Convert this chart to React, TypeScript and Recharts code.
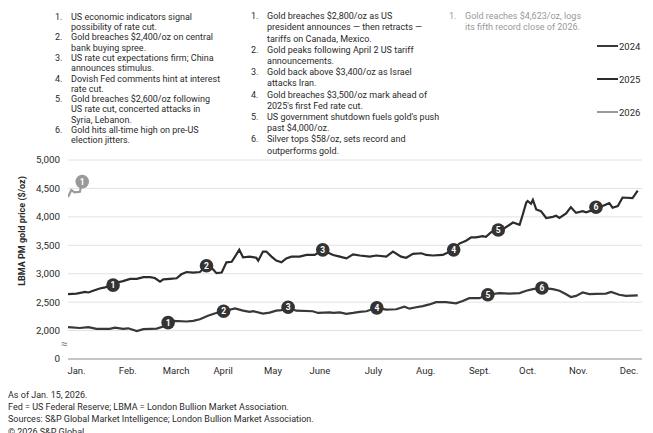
import { LineChart, Line, XAxis, YAxis, CartesianGrid } from "recharts";

// month positions are in fractional months from Jan. 1
const monthLabels = ["Jan.", "Feb.", "March", "April", "May", "June", "July", "Aug.", "Sept.", "Oct.", "Nov.", "Dec."];
const monthTicks = [0.18, 1.26, 2.28, 3.27, 4.32, 5.31, 6.44, 7.54, 8.68, 9.69, 10.76, 11.83];

// 1500 sits at the axis break and is labelled as 0
const priceTicks = [1500, 2000, 2500, 3000, 3500, 4000, 4500, 5000];

const months2024 = [0, 0.25, 0.43, 0.6, 0.88, 0.99, 1.16, 1.27, 1.45, 1.59, 1.87, 2.04, 2.11, 2.22, 2.5, 2.64, 2.78, 2.95, 3.09, 3.28, 3.52, 3.69, 3.83, 3.9, 4.11, 4.25, 4.39, 4.5, 4.64, 4.81, 5.16, 5.27, 5.52, 5.59, 5.73, 5.87, 6.01, 6.15, 6.29, 6.51, 6.71, 6.92, 7.09, 7.2, 7.34, 7.48, 7.62, 7.76, 7.97, 8.18, 8.32, 8.46, 8.67, 8.85, 9.09, 9.31, 9.52, 9.66, 9.8, 9.99, 10.22, 10.36, 10.5, 10.6, 10.71, 10.85, 10.99, 11.13, 11.34, 11.45, 11.62, 11.76, 12.01];
const gold2024 = [2060, 2045, 2060, 2030, 2030, 2050, 2030, 2040, 1990, 2025, 2035, 2080, 2140, 2170, 2160, 2170, 2200, 2260, 2300, 2340, 2390, 2350, 2330, 2340, 2300, 2315, 2350, 2360, 2410, 2350, 2340, 2310, 2320, 2310, 2320, 2295, 2310, 2330, 2340, 2400, 2370, 2375, 2420, 2385, 2410, 2430, 2460, 2500, 2500, 2480, 2520, 2570, 2570, 2630, 2660, 2650, 2660, 2700, 2730, 2750, 2730, 2700, 2640, 2590, 2610, 2670, 2640, 2645, 2650, 2680, 2630, 2610, 2620];
const events2024 = [2.11, 3.28, 4.64, 6.51, 8.85, 9.99];

const months2025 = [0, 0.18, 0.36, 0.43, 0.53, 0.67, 0.78, 0.95, 1.06, 1.16, 1.31, 1.45, 1.59, 1.73, 1.83, 1.94, 2.01, 2.15, 2.29, 2.39, 2.5, 2.64, 2.78, 2.92, 3.03, 3.13, 3.24, 3.34, 3.45, 3.52, 3.61, 3.69, 3.83, 3.97, 4.01, 4.11, 4.18, 4.29, 4.39, 4.5, 4.6, 4.71, 4.88, 5.03, 5.2, 5.37, 5.45, 5.59, 5.73, 5.87, 6.01, 6.15, 6.36, 6.5, 6.71, 6.85, 7.02, 7.13, 7.27, 7.45, 7.55, 7.69, 7.9, 8.13, 8.25, 8.39, 8.5, 8.6, 8.74, 8.81, 8.92, 9.07, 9.2, 9.38, 9.52, 9.59, 9.66, 9.69, 9.76, 9.8, 9.87, 9.97, 10.08, 10.22, 10.29, 10.36, 10.5, 10.6, 10.71, 10.85, 10.92, 11.04, 11.13, 11.27, 11.41, 11.48, 11.59, 11.69, 11.9, 12.01];
const gold2025 = [2640, 2650, 2680, 2670, 2700, 2740, 2760, 2800, 2850, 2870, 2910, 2910, 2940, 2940, 2925, 2860, 2900, 2910, 2920, 2990, 3030, 3020, 3030, 3140, 3100, 3010, 3020, 3200, 3210, 3300, 3420, 3290, 3300, 3280, 3230, 3390, 3390, 3300, 3230, 3200, 3270, 3300, 3300, 3330, 3330, 3420, 3380, 3330, 3300, 3270, 3340, 3320, 3300, 3320, 3300, 3390, 3300, 3280, 3350, 3360, 3330, 3320, 3330, 3420, 3530, 3580, 3640, 3640, 3660, 3650, 3730, 3770, 3800, 3900, 3860, 4050, 4250, 4280, 4230, 4300, 4130, 4100, 3980, 4000, 4020, 3980, 4060, 4170, 4070, 4100, 4080, 4110, 4170, 4190, 4240, 4160, 4190, 4340, 4330, 4460];
const events2025 = [0.95, 2.92, 5.37, 8.13, 9.07, 11.13];

const months2026 = [0, 0.07, 0.14, 0.25, 0.3];
const gold2026 = [4350, 4470, 4430, 4440, 4620];
const events2026 = [0.3];

const notes2024 = [
  ["US economic indicators signal", "possibility of rate cut."],
  ["Gold breaches $2,400/oz on central", "bank buying spree."],
  ["US rate cut expectations firm; China", "announces stimulus."],
  ["Dovish Fed comments hint at interest", "rate cut."],
  ["Gold breaches $2,600/oz following", "US rate cut, concerted attacks in", "Syria, Lebanon."],
  ["Gold hits all-time high on pre-US", "election jitters."],
];
const notes2025 = [
  ["Gold breaches $2,800/oz as US", "president announces \u2014 then retracts \u2014", "tariffs on Canada, Mexico."],
  ["Gold peaks following April 2 US tariff", "announcements."],
  ["Gold back above $3,400/oz as Israel", "attacks Iran."],
  ["Gold breaches $3,500/oz mark ahead of", "2025's first Fed rate cut."],
  ["US government shutdown fuels gold's push", "past $4,000/oz."],
  ["Silver tops $58/oz, sets record and", "outperforms gold."],
];
const notes2026 = [["Gold reaches $4,623/oz, logs", "its fifth record close of 2026."]];

const years = ["2024", "2025", "2026"];
const yearColors = ["#383838", "#2c2c2c", "#9a9a9a"];

const footer = [
  "As of Jan. 15, 2026.",
  "Fed = US Federal Reserve; LBMA = London Bullion Market Association.",
  "Sources: S&P Global Market Intelligence; London Bullion Market Association.",
  "\u00a9 2026 S&P Global.",
];

const FONT = "Roboto, 'Noto Sans', sans-serif";

function toPoints(xs: number[], ys: number[], events: number[]) {
  return xs.map((m, i) => ({ m, price: ys[i], note: events.indexOf(m) + 1 }));
}

const data2024 = toPoints(months2024, gold2024, events2024);
const data2025 = toPoints(months2025, gold2025, events2025);
const data2026 = toPoints(months2026, gold2026, events2026);

const markerDot = (fill: string) => (props: any) => {
  const { cx, cy, payload, index } = props;
  if (!payload || !payload.note) return <g key={`d-${index}`} />;
  return (
    <g key={`d-${index}`}>
      <circle cx={cx} cy={cy} r={6.8} fill={fill} />
      <text x={cx} y={cy} dy="0.36em" textAnchor="middle" fontSize={8.5} fontWeight={700} fill="#fff" fontFamily={FONT}>
        {payload.note}
      </text>
    </g>
  );
};

function NoteColumn({ notes, left, lineHeight, color }: { notes: string[][]; left: number; lineHeight: number; color: string }) {
  return (
    <div style={{ position: "absolute", left, top: 16.7 - lineHeight / 2, fontSize: 9, lineHeight: `${lineHeight}px`, color, whiteSpace: "nowrap" }}>
      {notes.map((lines, i) => (
        <div key={i} style={{ display: "flex" }}>
          <div style={{ width: 16 }}>{i + 1}.</div>
          <div>
            {lines.map((l, j) => (
              <div key={j}>{l}</div>
            ))}
          </div>
        </div>
      ))}
    </div>
  );
}

export default function App() {
  return (
    <div style={{ position: "absolute", left: 0, top: 0, width: 653, height: 433, background: "#fff", fontFamily: FONT, overflow: "hidden" }}>
      <LineChart width={653} height={433} margin={{ top: 160, right: 11, bottom: 44, left: 8 }}>
        <CartesianGrid vertical={false} stroke="#e2e2e2" />
        <XAxis
          dataKey="m"
          type="number"
          domain={[0, 12.1]}
          ticks={monthTicks}
          tickFormatter={(v: number) => monthLabels[monthTicks.indexOf(v)]}
          tick={{ fontSize: 9.5, fill: "#2a2a2a", fontFamily: FONT }}
          tickLine={false}
          axisLine={{ stroke: "#9a9a9a" }}
          interval={0}
          allowDataOverflow
        />
        <YAxis
          type="number"
          width={60}
          domain={[1500, 5000]}
          ticks={priceTicks}
          tickFormatter={(v: number) => (v === 1500 ? "0" : v.toLocaleString("en-US"))}
          tick={{ fontSize: 9.8, fill: "#2a2a2a", fontFamily: FONT }}
          tickLine={false}
          axisLine={false}
          interval={0}
        />
        <Line data={data2024} dataKey="price" type="linear" stroke={yearColors[0]} strokeWidth={2.2} dot={markerDot("#333")} activeDot={false} isAnimationActive={false} />
        <Line data={data2025} dataKey="price" type="linear" stroke={yearColors[1]} strokeWidth={2.2} dot={markerDot("#333")} activeDot={false} isAnimationActive={false} />
        <Line data={data2026} dataKey="price" type="linear" stroke={yearColors[2]} strokeWidth={2.2} dot={markerDot("#999")} activeDot={false} isAnimationActive={false} />
      </LineChart>

      {/* axis break mark */}
      <div style={{ position: "absolute", left: 61, top: 337, fontSize: 12, lineHeight: "14px", color: "#888" }}>{"\u2248"}</div>

      <div
        style={{
          position: "absolute",
          left: 22,
          top: 231,
          transform: "translate(-50%, -50%) rotate(-90deg)",
          fontSize: 9,
          fontWeight: 700,
          color: "#2a2a2a",
          whiteSpace: "nowrap",
        }}
      >
        LBMA PM gold price ($/oz)
      </div>

      <NoteColumn notes={notes2024} left={55} lineHeight={10.33} color="#2a2a2a" />
      <NoteColumn notes={notes2025} left={251} lineHeight={11.2} color="#2a2a2a" />
      <NoteColumn notes={notes2026} left={449} lineHeight={11} color="#999" />

      {years.map((y, i) => (
        <div key={y} style={{ position: "absolute", left: 597, top: 46 + i * 33 - 6, height: 12, display: "flex", alignItems: "center" }}>
          <div style={{ width: 21, height: 2, background: yearColors[i] }} />
          <div style={{ fontSize: 9.5, color: "#2a2a2a", marginLeft: 1 }}>{y}</div>
        </div>
      ))}

      <div style={{ position: "absolute", left: 8, top: 388.8, fontSize: 9, lineHeight: "12.3px", color: "#2a2a2a", whiteSpace: "nowrap" }}>
        {footer.map((f, i) => (
          <div key={i}>{f}</div>
        ))}
      </div>
    </div>
  );
}
